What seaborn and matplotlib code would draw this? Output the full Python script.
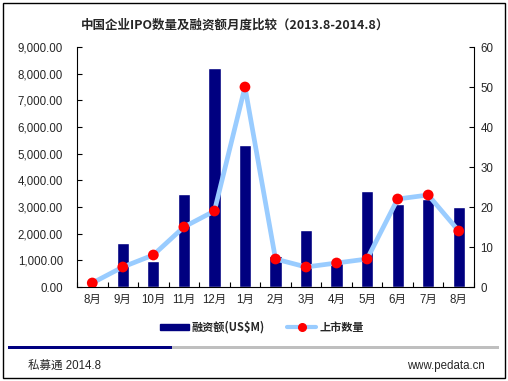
import numpy as np
import pandas as pd
import matplotlib
matplotlib.use("Agg")
import matplotlib.pyplot as plt
import seaborn as sns
from matplotlib.patches import Rectangle
from matplotlib.lines import Line2D
from matplotlib.ticker import FuncFormatter

# data
periods = ["2013.8", "2013.9", "2013.10", "2013.11", "2013.12", "2014.1", "2014.2",
           "2014.3", "2014.4", "2014.5", "2014.6", "2014.7", "2014.8"]
month_labels = ["8月", "9月", "10月", "11月", "12月", "1月", "2月",
                "3月", "4月", "5月", "6月", "7月", "8月"]
amount = [40, 1660, 990, 3490, 8200, 5330, 1160, 2140, 900, 3600, 3120, 3300, 3000]
ipo_count = [1, 5, 8, 15, 19, 50, 7, 5, 6, 7, 22, 23, 14]

title = "中国企业IPO数量及融资额月度比较（2013.8-2014.8）"
bar_label = "融资额(US$M)"
line_label = "上市数量"

sns.set_theme(style="white")
plt.rcParams["font.family"] = ["Liberation Sans", "Noto Sans CJK SC", "DejaVu Sans"]

navy = "#000080"
light_blue = "#99CCFF"

df = pd.DataFrame({"period": periods, "amount": amount, "count": ipo_count})

fig = plt.figure(figsize=(5.08, 3.81), dpi=100)
ax = fig.add_axes([77 / 508, 1 - 287 / 381, 397 / 508, 240 / 381])

sns.barplot(data=df, x="period", y="amount", color=navy, width=0.4,
            saturation=1, ax=ax, order=periods)
ax.set_ylim(0, 9000)
ax.set_xlim(-0.5, len(periods) - 0.5)
ax.set_yticks(np.arange(0, 9001, 1000))
ax.yaxis.set_major_formatter(FuncFormatter(lambda v, p: f"{v:,.2f}"))
ax.set_xlabel("")
ax.set_ylabel("")
ax.set_xticks(range(len(periods)))
ax.set_xticklabels(month_labels)
ax.set_xticks(np.arange(-0.5, len(periods), 1), minor=True)
ax.tick_params(axis="x", which="major", length=0, pad=5, labelsize=8.3)
ax.tick_params(axis="x", which="minor", direction="in", length=3.5, width=0.8,
               bottom=True, color="black")
ax.tick_params(axis="y", direction="in", length=3.5, width=0.8, left=True,
               labelsize=8.3, pad=10, color="black")
for s in ["top", "right"]:
    ax.spines[s].set_visible(False)
for s in ["left", "bottom"]:
    ax.spines[s].set_color("black")
    ax.spines[s].set_linewidth(0.8)

ax2 = ax.twinx()
xs = np.arange(len(periods))
sns.lineplot(x=xs, y=ipo_count, color=light_blue, linewidth=3.4, ax=ax2)
sns.scatterplot(x=xs, y=ipo_count, color="#FF0000", s=60, edgecolor="none",
                zorder=5, ax=ax2)
ax2.set_ylim(0, 60)
ax2.set_yticks(np.arange(0, 61, 10))
ax2.set_xlim(-0.5, len(periods) - 0.5)
ax2.tick_params(axis="y", direction="in", length=3.5, width=0.8, right=True,
                labelsize=8.3, pad=4.5, color="black")
ax2.spines["top"].set_visible(False)
ax2.spines["left"].set_visible(False)
ax2.spines["bottom"].set_visible(False)
ax2.spines["right"].set_color("black")
ax2.spines["right"].set_linewidth(0.8)

fig.text(235 / 508, 1 - 25 / 381, title, ha="center", va="center",
         fontsize=9, fontweight="bold",
         family=["Noto Sans CJK SC", "DejaVu Sans"])

handles = [Rectangle((0, 0), 1, 1, color=navy),
           Line2D([], [], color=light_blue, linewidth=3, marker="o",
                  markersize=5.5, markerfacecolor="#FF0000",
                  markeredgecolor="#FF0000")]
leg = fig.legend(handles, [bar_label, line_label], loc="center",
                 bbox_to_anchor=(262 / 508, 1 - 327 / 381), ncol=2, frameon=False,
                 handlelength=2.6, handleheight=0.45, handletextpad=0.25,
                 columnspacing=2.0,
                 prop={"family": ["Noto Sans CJK SC", "DejaVu Sans"],
                       "weight": "bold", "size": 8})

# bottom band and footer
fig.add_artist(Rectangle((8 / 508, 1 - 349 / 381), 164 / 508, 3.5 / 381,
                         transform=fig.transFigure, color=navy, lw=0))
fig.add_artist(Rectangle((172 / 508, 1 - 349 / 381), 327 / 508, 3.5 / 381,
                         transform=fig.transFigure, color="#BFBFBF", lw=0))
fig.text(28 / 508, 1 - 366 / 381, "私募通 2014.8", ha="left", va="center",
         fontsize=8.3)
fig.text(485 / 508, 1 - 366 / 381, "www.pedata.cn", ha="right", va="center",
         fontsize=8.3)
fig.add_artist(Rectangle((3 / 508, 3 / 381), 502 / 508, 375 / 381,
                         transform=fig.transFigure, fill=False,
                         edgecolor="black", lw=1))

fig.savefig("out.png", dpi=100)
